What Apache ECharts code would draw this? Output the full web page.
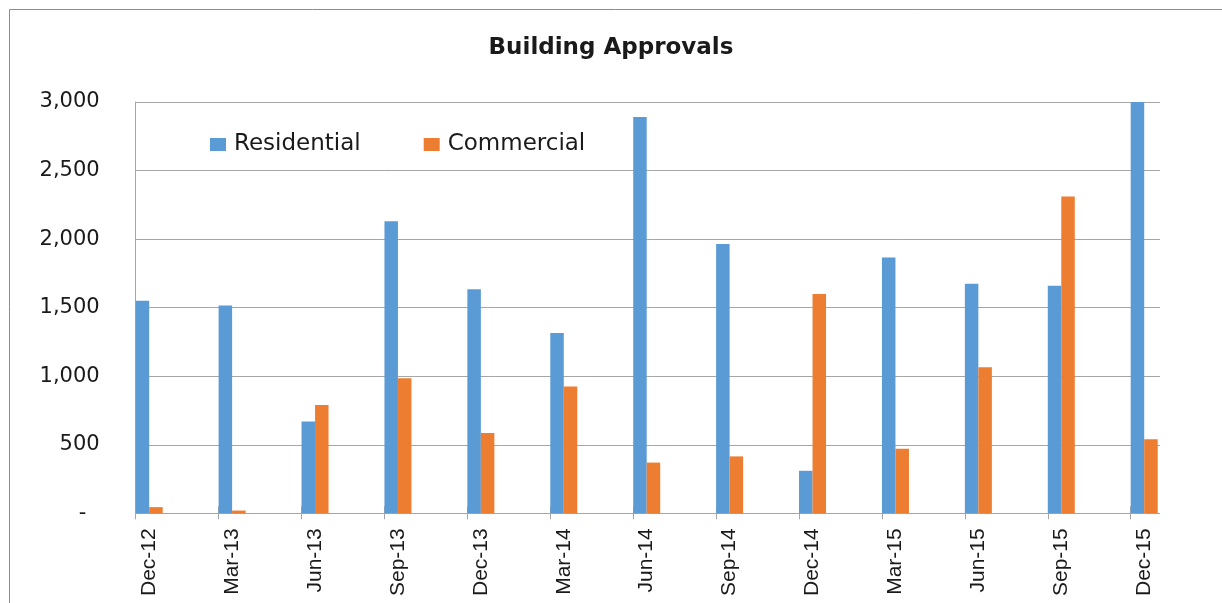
<!DOCTYPE html>
<html>
<head>
<meta charset="utf-8">
<script src="https://cdn.jsdelivr.net/npm/echarts@6/dist/echarts.min.js"></script>
<style>
  html, body { margin: 0; padding: 0; background: #fff; }
  #chart { width: 1222px; height: 603px; }
</style>
</head>
<body>
<div id="chart"></div>
<script>
const categories = ['Dec-12', 'Mar-13', 'Jun-13', 'Sep-13', 'Dec-13', 'Mar-14', 'Jun-14',
  'Sep-14', 'Dec-14', 'Mar-15', 'Jun-15', 'Sep-15', 'Dec-15'];
const residential = [1550, 1515, 670, 2130, 1635, 1315, 2890, 1965, 310, 1865, 1675, 1660, 3000];
const commercial = [45, 20, 790, 985, 585, 925, 370, 415, 1600, 470, 1065, 2310, 540];
const yTicks = { min: 0, max: 3000, interval: 500 };

const BLUE = '#5B9BD5';
const ORANGE = '#ED7D31';
const GRID_GREY = '#A6A6A6';
const TXT = '#1a1a1a';

const chart = echarts.init(document.getElementById('chart'));

// three grids share the same vertical extent:
// 0 = frame (y labels + gridlines), 1 = tick marks, 2 = bars + category labels
const gridTop = 102, gridBottom = 89.7;

const hiddenY = (gi) => ({
  type: 'value', gridIndex: gi, min: yTicks.min, max: yTicks.max,
  interval: yTicks.interval, show: false
});

const option = {
  animation: false,
  backgroundColor: '#fff',
  title: {
    text: 'Building Approvals',
    left: 'center',
    top: 32,
    textStyle: { fontFamily: 'DejaVu Sans', fontSize: 23, fontWeight: 'bold', color: TXT }
  },
  legend: {
    left: 205,
    top: 128,
    itemWidth: 16,
    itemHeight: 13,
    itemGap: 63,
    icon: 'rect',
    textStyle: {
      fontFamily: 'DejaVu Sans', fontSize: 23, color: TXT,
      padding: [0, 0, 0, 3]
    },
    data: ['Residential', 'Commercial']
  },
  graphic: [{
    type: 'polyline',
    silent: true,
    shape: { points: [[9.5, 603], [9.5, 9.5], [1222, 9.5]] },
    style: { fill: null, stroke: '#8c8c8c', lineWidth: 1 }
  }],
  grid: [
    { left: 135.7, right: 62, top: gridTop, bottom: gridBottom },
    { left: 135.7, right: 91.3, top: gridTop, bottom: gridBottom },
    { left: 149.2, right: 77.8, top: gridTop, bottom: gridBottom }
  ],
  xAxis: [
    { type: 'category', gridIndex: 0, data: categories, show: false },
    {
      type: 'category', gridIndex: 1, data: categories, boundaryGap: false,
      offset: -7,
      axisLine: { show: false },
      axisTick: { show: true, length: 13, lineStyle: { color: GRID_GREY, width: 1 } },
      axisLabel: { show: false }
    },
    {
      type: 'category', gridIndex: 2, data: categories, boundaryGap: false,
      axisLine: { show: false },
      axisTick: { show: false },
      axisLabel: {
        rotate: 90, margin: 15, interval: 0,
        fontFamily: 'Liberation Sans', fontSize: 21, color: TXT
      }
    }
  ],
  yAxis: [
    {
      type: 'value', gridIndex: 0, min: yTicks.min, max: yTicks.max, interval: yTicks.interval,
      axisLine: { show: true, lineStyle: { color: GRID_GREY } },
      axisTick: { show: false },
      splitLine: { show: true, lineStyle: { color: GRID_GREY, width: 1 } },
      axisLabel: {
        margin: 36,
        fontFamily: 'DejaVu Sans', fontSize: 21, color: TXT,
        padding: [4, 0, 0, 0],
        formatter: (v) => v === 0 ? '-  ' : v.toLocaleString('en-US')
      }
    },
    hiddenY(1),
    hiddenY(2)
  ],
  series: [
    {
      name: 'Residential', type: 'bar', xAxisIndex: 2, yAxisIndex: 2,
      data: residential, barWidth: 13.5, barGap: '0%',
      itemStyle: { color: BLUE }
    },
    {
      name: 'Commercial', type: 'bar', xAxisIndex: 2, yAxisIndex: 2,
      data: commercial, barWidth: 13.5, barGap: '0%',
      itemStyle: { color: ORANGE }
    }
  ]
};

chart.setOption(option);
</script>
</body>
</html>
